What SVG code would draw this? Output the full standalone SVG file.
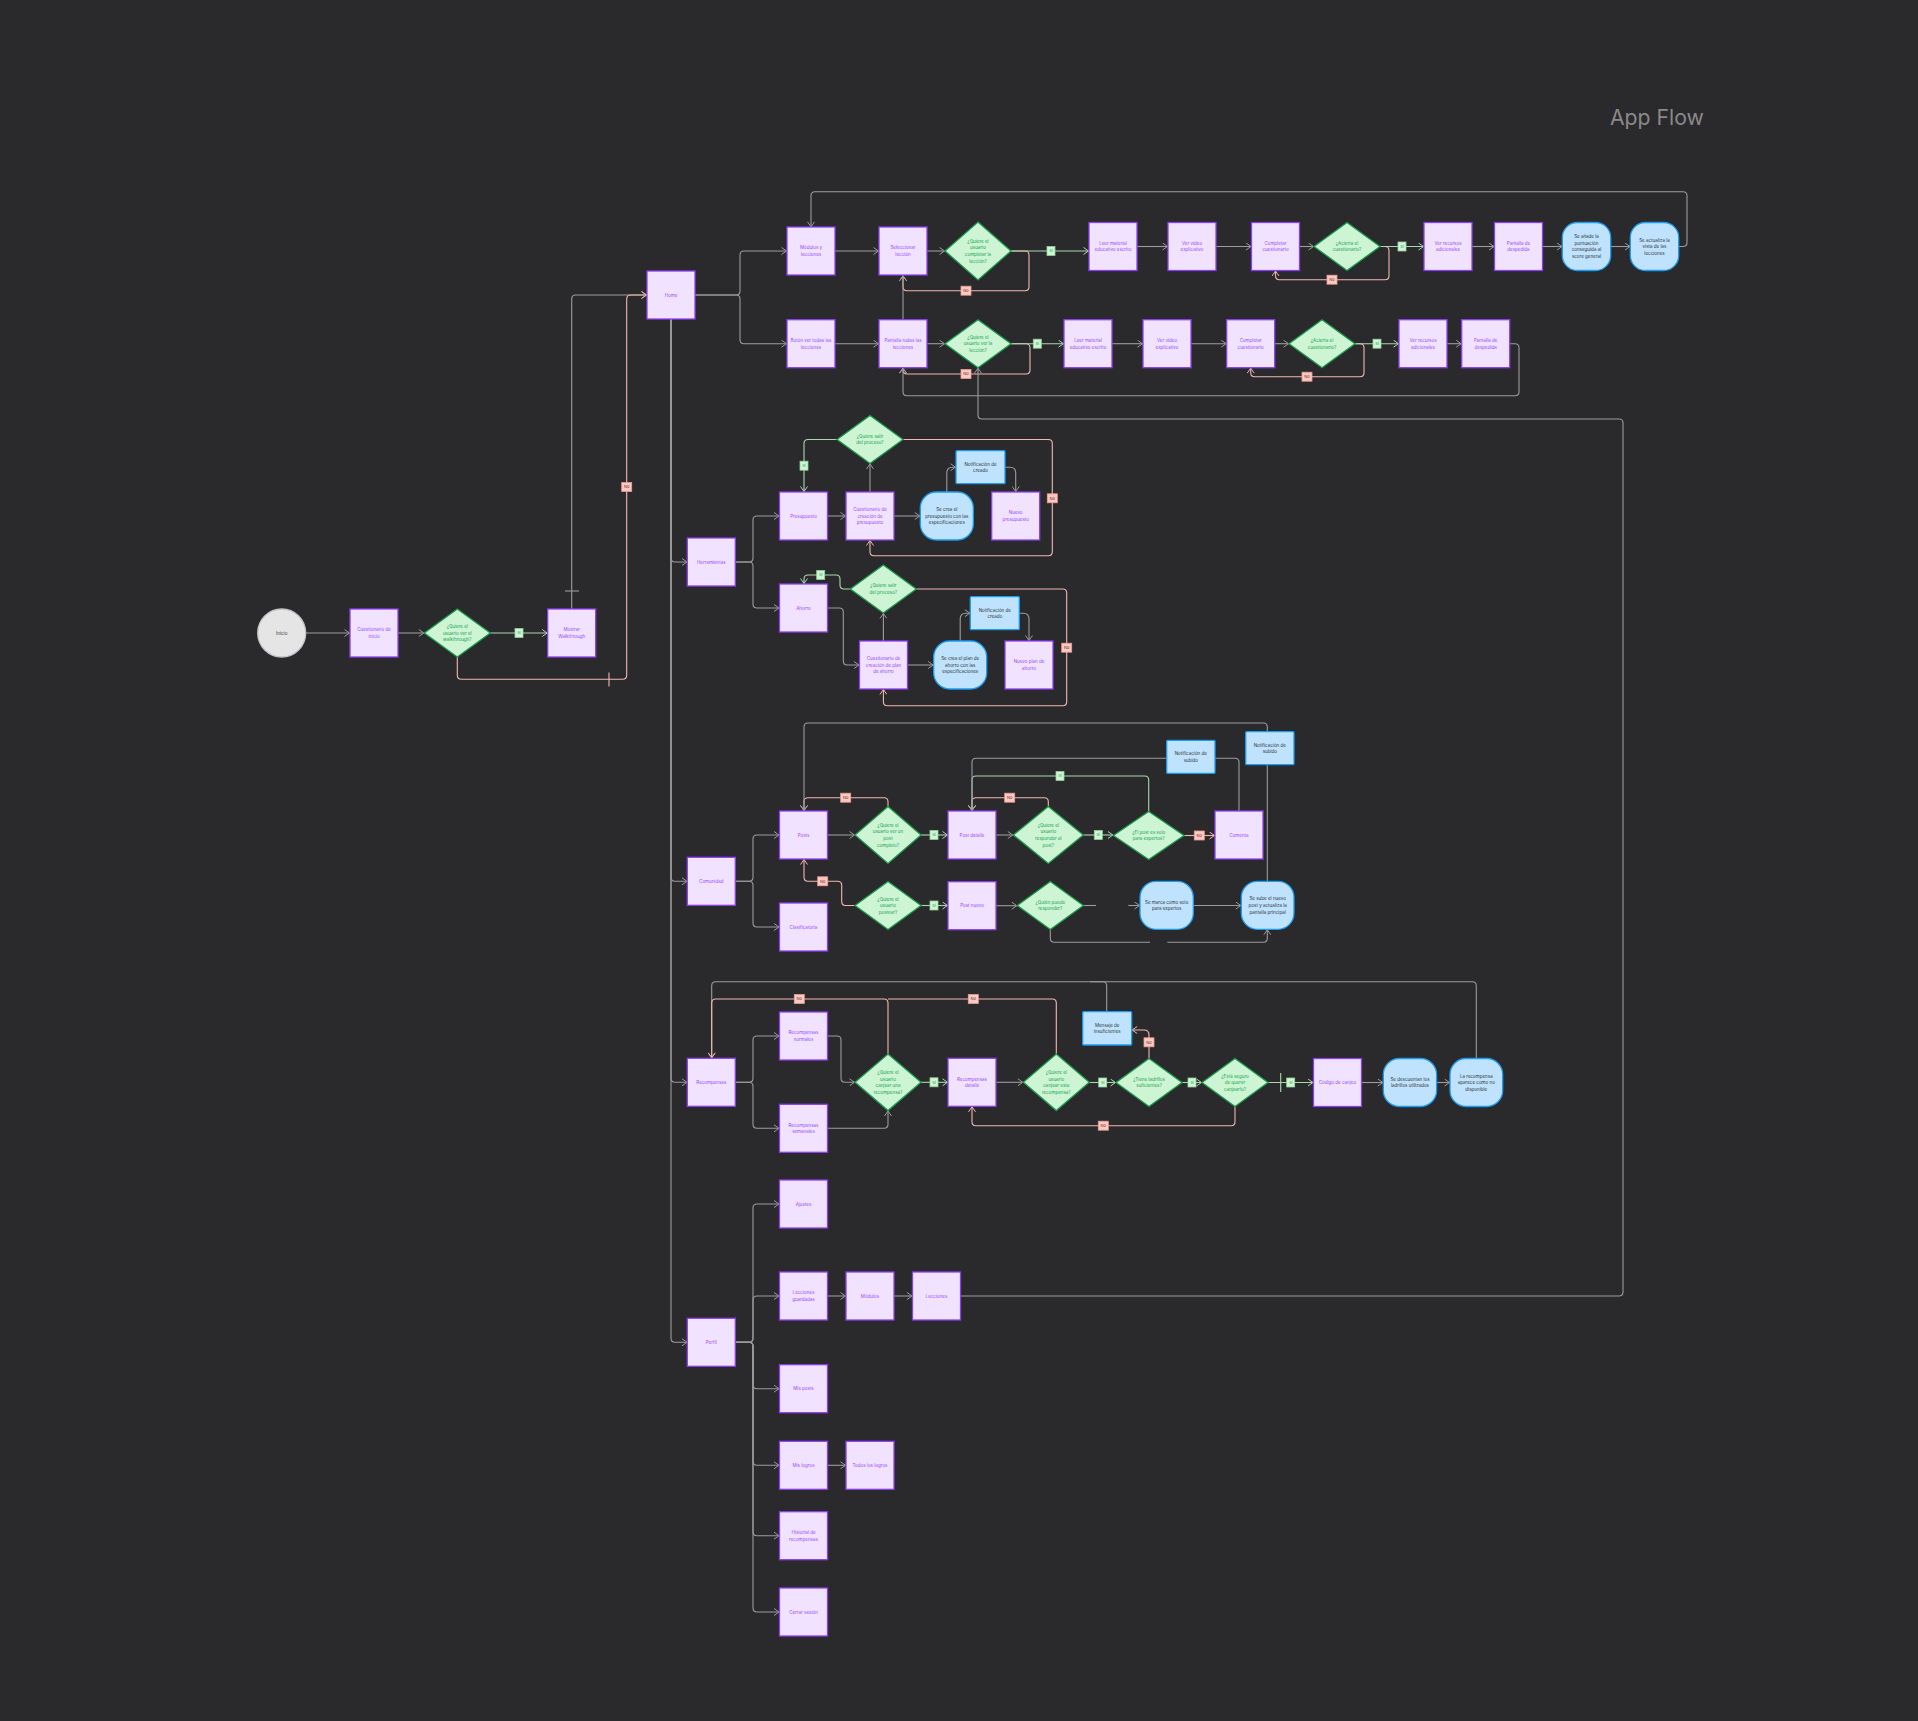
<svg xmlns="http://www.w3.org/2000/svg" width="1918" height="1721" viewBox="0 0 1918 1721">
<style>
.b{fill:#f1e3ff;stroke:#8c3ff0;stroke-width:1.3}
.d{fill:#cdf5d3;stroke:#1a9a4c;stroke-width:1.3}
.u{fill:#bfe3ff;stroke:#1a9cf5;stroke-width:1.3}
.t{font-family:Inter,'Liberation Sans',sans-serif;font-size:4.5px;text-anchor:middle}
.tb{fill:#9747ff}
.td{fill:#17a354}
.tu{fill:#333333}
.c{fill:none;stroke:#9c9c9c;stroke-width:1.1}
.cp{fill:none;stroke:#f2b9b0;stroke-width:1.1}
.cg{fill:none;stroke:#a8d9ae;stroke-width:1.1}
.ls rect{fill:#d0f6d5;stroke:#90d29a;stroke-width:0.8}
.ls text{fill:#1f9d4f}
.ln rect{fill:#ffc9c2;stroke:#ee9c92;stroke-width:0.8}
.ln text{fill:#4a3030}
.lt{font-family:Inter,'Liberation Sans',sans-serif;font-size:4px;text-anchor:middle}
</style>
<defs>
<marker id="ag" viewBox="0 0 6 8" refX="5.5" refY="4" markerWidth="6" markerHeight="8" markerUnits="userSpaceOnUse" orient="auto"><path d="M0.5,0.5 L5.5,4 L0.5,7.5" fill="none" stroke="#9c9c9c" stroke-width="1"/></marker>
<marker id="ap" viewBox="0 0 6 8" refX="5.5" refY="4" markerWidth="6" markerHeight="8" markerUnits="userSpaceOnUse" orient="auto"><path d="M0.5,0.5 L5.5,4 L0.5,7.5" fill="none" stroke="#f2b9b0" stroke-width="1"/></marker>
<marker id="agr" viewBox="0 0 6 8" refX="5.5" refY="4" markerWidth="6" markerHeight="8" markerUnits="userSpaceOnUse" orient="auto"><path d="M0.5,0.5 L5.5,4 L0.5,7.5" fill="none" stroke="#a8d9ae" stroke-width="1"/></marker>
</defs>
<rect width="1918" height="1721" fill="#2a292c"/>
<text x="1610" y="125" font-family="Inter,'Liberation Sans',sans-serif" font-size="21.2" fill="#8a8a8a">App Flow</text>

<g id="connectors">
<path class="c" marker-end="url(#ag)" d="M695,295 H736 Q740,295 740,291 V255 Q740,251 744,251 H786.5"/>
<path class="c" marker-end="url(#ag)" d="M695,295 H736 Q740,295 740,299 V339.7 Q740,343.7 744,343.7 H786.5"/>
<path class="c" marker-end="url(#ag)" d="M835,251 H878.5"/>
<path class="c" marker-end="url(#ag)" d="M927,251 H944.5"/>
<path class="cp" marker-end="url(#ap)" d="M1011,251 H1025 Q1029,251 1029,255 V286.7 Q1029,290.7 1025,290.7 H907 Q903,290.7 903,286.7 V275.8"/>
<path class="cg" marker-end="url(#agr)" d="M1011,251 H1088.5"/>
<path class="c" marker-end="url(#ag)" d="M1137,246.5 H1167.5"/>
<path class="c" marker-end="url(#ag)" d="M1216,246.5 H1251"/>
<path class="c" marker-end="url(#ag)" d="M1299.5,246.5 H1313.5"/>
<path class="cp" marker-end="url(#ap)" d="M1380,246.5 H1385 Q1389,246.5 1389,250.5 V275.7 Q1389,279.7 1385,279.7 H1279.5 Q1275.5,279.7 1275.5,275.7 V271"/>
<path class="cg" marker-end="url(#agr)" d="M1380,246.5 H1423.5"/>
<path class="c" marker-end="url(#ag)" d="M1472,246.5 H1494"/>
<path class="c" marker-end="url(#ag)" d="M1542.5,246.5 H1562"/>
<path class="c" marker-end="url(#ag)" d="M1610.7,246.5 H1630"/>
<path class="c" marker-end="url(#ag)" d="M1678.7,246.5 H1683 Q1687,246.5 1687,242.5 V195.7 Q1687,191.7 1683,191.7 H815 Q811,191.7 811,195.7 V226.8"/>
<path class="c" marker-end="url(#ag)" d="M835,343.7 H878.5"/>
<path class="c" marker-end="url(#ag)" d="M927,343.7 H944.5"/>
<path class="cp" marker-end="url(#ap)" d="M1011,343.7 H1026 Q1030,343.7 1030,347.7 V370 Q1030,374 1026,374 H907 Q903,374 903,370 V368.2"/>
<path class="cg" marker-end="url(#agr)" d="M1011,343.7 H1063.5"/>
<path class="c" marker-end="url(#ag)" d="M1112,343.7 H1142.5"/>
<path class="c" marker-end="url(#ag)" d="M1191,343.7 H1226.2"/>
<path class="c" marker-end="url(#ag)" d="M1274.7,343.7 H1288.5"/>
<path class="cp" marker-end="url(#ap)" d="M1355,343.7 H1360 Q1364,343.7 1364,347.7 V372.7 Q1364,376.7 1360,376.7 H1254.7 Q1250.7,376.7 1250.7,372.7 V368.2"/>
<path class="cg" marker-end="url(#agr)" d="M1355,343.7 H1398.5"/>
<path class="c" marker-end="url(#ag)" d="M1447,343.7 H1461.2"/>
<path class="c" marker-end="url(#ag)" d="M1509.7,343.7 H1515 Q1519,343.7 1519,347.7 V391.7 Q1519,395.7 1515,395.7 H907 Q903,395.7 903,391.7 V368.2"/>
<path class="c" marker-end="url(#ag)" d="M903,319.7 V275.8"/>
<path class="c" marker-end="url(#ag)" d="M960.5,1296 H1619 Q1623,1296 1623,1292 V423 Q1623,419 1619,419 H982 Q978,419 978,415 V368.2"/>
<path class="c" marker-end="url(#ag)" d="M305.7,633 H349.5"/>
<path class="c" marker-end="url(#ag)" d="M398,633 H423.8"/>
<path class="cg" marker-end="url(#agr)" d="M490.3,633 H547.2"/>
<path class="c" marker-end="url(#ag)" d="M571.7,609 V299 Q571.7,295 575.7,295 H646.5"/>
<path class="c" d="M565,591 H579"/>
<path class="cp" marker-end="url(#ap)" d="M457.3,657 V675.3 Q457.3,679.3 461.3,679.3 H622.7 Q626.7,679.3 626.7,675.3 V299 Q626.7,295 630.7,295 H646.5"/>
<path class="cp" d="M609,672.5 V686.5"/>
<path class="c" marker-end="url(#ag)" d="M671,319 V558 Q671,562 675,562 H687"/>
<path class="c" marker-end="url(#ag)" d="M671,319 V877.3 Q671,881.3 675,881.3 H687"/>
<path class="c" marker-end="url(#ag)" d="M671,319 V1078.3 Q671,1082.3 675,1082.3 H687"/>
<path class="c" marker-end="url(#ag)" d="M671,319 V1338.3 Q671,1342.3 675,1342.3 H687"/>
<path class="c" marker-end="url(#ag)" d="M735.3,562 H749 Q753,562 753,558 V520 Q753,516 757,516 H779"/>
<path class="c" marker-end="url(#ag)" d="M735.3,562 H749 Q753,562 753,566 V604 Q753,608 757,608 H779"/>
<path class="c" marker-end="url(#ag)" d="M827.5,516 H845.5"/>
<path class="c" marker-end="url(#ag)" d="M870,492 V464"/>
<path class="cg" marker-end="url(#agr)" d="M837,439.5 H808 Q804,439.5 804,443.5 V491.5"/>
<path class="cp" marker-end="url(#ap)" d="M903,439.5 H1048.3 Q1052.3,439.5 1052.3,443.5 V551.7 Q1052.3,555.7 1048.3,555.7 H874 Q870,555.7 870,551.7 V540.5"/>
<path class="c" marker-end="url(#ag)" d="M894,516 H919.8"/>
<path class="c" marker-end="url(#ag)" d="M946.8,492 V473 Q946.8,467.2 952.5,467.2 H955.5"/>
<path class="c" marker-end="url(#ag)" d="M1005,467.2 H1010 Q1015.7,467.2 1015.7,473 V491.5"/>
<path class="c" marker-end="url(#ag)" d="M827.5,608 H839.3 Q843.3,608 843.3,612 V661 Q843.3,665 847.3,665 H859"/>
<path class="c" marker-end="url(#ag)" d="M883.4,641 V613.5"/>
<path class="cg" marker-end="url(#agr)" d="M850.3,589 H844 Q840,589 840,585 V579 Q840,575 836,575 H808 Q804,575 804,579 V583.5"/>
<path class="cp" marker-end="url(#ap)" d="M916.3,589 H1062.7 Q1066.7,589 1066.7,593 V701.7 Q1066.7,705.7 1062.7,705.7 H887.4 Q883.4,705.7 883.4,701.7 V689.5"/>
<path class="c" marker-end="url(#ag)" d="M907.5,665 H933.2"/>
<path class="c" marker-end="url(#ag)" d="M960.2,641 V619 Q960.2,613.2 966,613.2 H969.8"/>
<path class="c" marker-end="url(#ag)" d="M1019.3,613.2 H1023 Q1029,613.2 1029,619 V640.5"/>
<path class="c" marker-end="url(#ag)" d="M735.3,881.3 H749 Q753,881.3 753,877.3 V839 Q753,835 757,835 H779"/>
<path class="c" marker-end="url(#ag)" d="M735.3,881.3 H749 Q753,881.3 753,885.3 V923 Q753,927 757,927 H779"/>
<path class="c" marker-end="url(#ag)" d="M827.5,835 H854.5"/>
<path class="cp" marker-end="url(#ap)" d="M888,806.5 V801.7 Q888,797.7 884,797.7 H808 Q804,797.7 804,801.7 V810.5"/>
<path class="cg" marker-end="url(#agr)" d="M921,835 H947.5"/>
<path class="c" marker-end="url(#ag)" d="M996,835 H1012.8"/>
<path class="cp" marker-end="url(#ap)" d="M1048.3,806.5 V801.7 Q1048.3,797.7 1044.3,797.7 H976 Q972,797.7 972,801.7 V810.5"/>
<path class="cg" marker-end="url(#agr)" d="M1083.3,835 H1112.9"/>
<path class="cg" marker-end="url(#agr)" d="M1148.7,811.5 V780 Q1148.7,776 1144.7,776 H976 Q972,776 972,780 V810.5"/>
<path class="c" marker-end="url(#ag)" d="M1239,811 V762.3 Q1239,758.3 1235,758.3 H976 Q972,758.3 972,762.3 V810.5"/>
<path class="cp" marker-end="url(#ap)" d="M1184,835.5 H1214.5"/>
<path class="c" marker-end="url(#ag)" d="M1267.3,731.7 V727 Q1267.3,723 1263.3,723 H808 Q804,723 804,727 V810.5"/>
<path class="c" d="M1267.3,881.3 V764.7"/>
<path class="cp" marker-end="url(#ap)" d="M855,905.5 H845.7 Q841.7,905.5 841.7,901.5 V885.3 Q841.7,881.3 837.7,881.3 H808 Q804,881.3 804,877.3 V859.5"/>
<path class="cg" marker-end="url(#agr)" d="M921,905.5 H947.5"/>
<path class="c" marker-end="url(#ag)" d="M996,905.7 H1016.8"/>
<path class="c" d="M1083.3,905.5 H1096"/>
<path class="c" marker-end="url(#ag)" d="M1128.3,905.5 H1139.5"/>
<path class="c" marker-end="url(#ag)" d="M1193.3,905.5 H1240.8"/>
<path class="c" d="M1050.3,929.5 V938.3 Q1050.3,942.3 1054.3,942.3 H1150"/>
<path class="c" marker-end="url(#ag)" d="M1167.3,942.3 H1263.3 Q1267.3,942.3 1267.3,938.3 V929.8"/>
<path class="c" marker-end="url(#ag)" d="M735.3,1082.3 H749 Q753,1082.3 753,1078.3 V1040 Q753,1036 757,1036 H779"/>
<path class="c" marker-end="url(#ag)" d="M735.3,1082.3 H749 Q753,1082.3 753,1086.3 V1124.3 Q753,1128.3 757,1128.3 H779"/>
<path class="c" marker-end="url(#ag)" d="M827.5,1036 H837 Q841,1036 841,1040 V1078.3 Q841,1082.3 845,1082.3 H854.5"/>
<path class="c" marker-end="url(#ag)" d="M827.5,1128.3 H884 Q888,1128.3 888,1124.3 V1111"/>
<path class="c" marker-end="url(#ag)" d="M1476.3,1058.5 V985.7 Q1476.3,981.7 1472.3,981.7 H715.7 Q711.7,981.7 711.7,985.7 V1057.8"/>
<path class="c" d="M1106.7,1011.7 V985.7 Q1106.7,981.7 1102.7,981.7 H1090"/>
<path class="cp" marker-end="url(#ap)" d="M888,1054 V1003 Q888,999 884,999 H715.7 Q711.7,999 711.7,1003 V1057.8"/>
<path class="cp" d="M1056.3,1054 V1003 Q1056.3,999 1052.3,999 H888"/>
<path class="cg" marker-end="url(#agr)" d="M921,1082.3 H947.5"/>
<path class="c" marker-end="url(#ag)" d="M996,1082.3 H1022.8"/>
<path class="cg" marker-end="url(#agr)" d="M1089.3,1082.5 H1115.5"/>
<path class="cp" marker-end="url(#ap)" d="M1149,1058.5 V1035 Q1149,1030 1144,1030 H1132.2"/>
<path class="cg" marker-end="url(#agr)" d="M1182,1082.5 H1201.5"/>
<path class="cp" marker-end="url(#ap)" d="M1235,1106.5 V1121.7 Q1235,1125.7 1231,1125.7 H976 Q972,1125.7 972,1121.7 V1106.8"/>
<path class="cg" marker-end="url(#agr)" d="M1268,1082.5 H1313"/>
<path class="cg" d="M1280.7,1073 V1092"/>
<path class="c" marker-end="url(#ag)" d="M1361.5,1082.5 H1382.8"/>
<path class="c" marker-end="url(#ag)" d="M1436.6,1082.5 H1449.5"/>
<path class="c" marker-end="url(#ag)" d="M735.3,1342.3 H749 Q753,1342.3 753,1338.3 V1208 Q753,1204 757,1204 H779"/>
<path class="c" marker-end="url(#ag)" d="M735.3,1342.3 H749 Q753,1342.3 753,1338.3 V1300 Q753,1296 757,1296 H779"/>
<path class="c" marker-end="url(#ag)" d="M735.3,1342.3 H749 Q753,1342.3 753,1346.3 V1384.7 Q753,1388.7 757,1388.7 H779"/>
<path class="c" marker-end="url(#ag)" d="M735.3,1342.3 H749 Q753,1342.3 753,1346.3 V1461.3 Q753,1465.3 757,1465.3 H779"/>
<path class="c" marker-end="url(#ag)" d="M735.3,1342.3 H749 Q753,1342.3 753,1346.3 V1531.7 Q753,1535.7 757,1535.7 H779"/>
<path class="c" marker-end="url(#ag)" d="M735.3,1342.3 H749 Q753,1342.3 753,1346.3 V1608 Q753,1612 757,1612 H779"/>
<path class="c" marker-end="url(#ag)" d="M827.5,1296 H845.5"/>
<path class="c" marker-end="url(#ag)" d="M894,1296 H912"/>
<path class="c" marker-end="url(#ag)" d="M827.5,1465.3 H845.5"/>

<g class="ls"><rect x="1047" y="246.5" width="8" height="9"/><text class="lt" x="1051" y="252.4">Sí</text></g>
<g class="ls"><rect x="1398" y="242" width="8" height="9"/><text class="lt" x="1402" y="247.9">Sí</text></g>
<g class="ls"><rect x="1033.3" y="339.2" width="8" height="9"/><text class="lt" x="1037.3" y="345.1">Sí</text></g>
<g class="ls"><rect x="1373" y="339.2" width="8" height="9"/><text class="lt" x="1377" y="345.1">Sí</text></g>
<g class="ls"><rect x="515" y="628.5" width="8" height="9"/><text class="lt" x="519" y="634.4">Sí</text></g>
<g class="ls"><rect x="800" y="461.2" width="8" height="9"/><text class="lt" x="804" y="467.1">Sí</text></g>
<g class="ls"><rect x="816.7" y="570.5" width="8" height="9"/><text class="lt" x="820.7" y="576.4">Sí</text></g>
<g class="ls"><rect x="930" y="830.5" width="8" height="9"/><text class="lt" x="934" y="836.4">Sí</text></g>
<g class="ls"><rect x="1094.3" y="830.5" width="8" height="9"/><text class="lt" x="1098.3" y="836.4">Sí</text></g>
<g class="ls"><rect x="1056" y="771.5" width="8" height="9"/><text class="lt" x="1060" y="777.4">Sí</text></g>
<g class="ls"><rect x="930" y="901" width="8" height="9"/><text class="lt" x="934" y="906.9">Sí</text></g>
<g class="ls"><rect x="930" y="1077.8" width="8" height="9"/><text class="lt" x="934" y="1083.7">Sí</text></g>
<g class="ls"><rect x="1098.7" y="1078" width="8" height="9"/><text class="lt" x="1102.7" y="1083.9">Sí</text></g>
<g class="ls"><rect x="1188" y="1078" width="8" height="9"/><text class="lt" x="1192" y="1083.9">Sí</text></g>
<g class="ls"><rect x="1286.7" y="1078" width="8" height="9"/><text class="lt" x="1290.7" y="1083.9">Sí</text></g>
<g class="ln"><rect x="961" y="286.2" width="10" height="9"/><text class="lt" x="966" y="292.1">No</text></g>
<g class="ln"><rect x="1327" y="275.2" width="10" height="9"/><text class="lt" x="1332" y="281.1">No</text></g>
<g class="ln"><rect x="961" y="369.5" width="10" height="9"/><text class="lt" x="966" y="375.4">No</text></g>
<g class="ln"><rect x="1302" y="372.2" width="10" height="9"/><text class="lt" x="1307" y="378.1">No</text></g>
<g class="ln"><rect x="621.7" y="482.5" width="10" height="9"/><text class="lt" x="626.7" y="488.4">No</text></g>
<g class="ln"><rect x="1047.3" y="493.8" width="10" height="9"/><text class="lt" x="1052.3" y="499.7">No</text></g>
<g class="ln"><rect x="1061.7" y="643.2" width="10" height="9"/><text class="lt" x="1066.7" y="649.1">No</text></g>
<g class="ln"><rect x="840.7" y="793.2" width="10" height="9"/><text class="lt" x="845.7" y="799.1">No</text></g>
<g class="ln"><rect x="1004.7" y="793.2" width="10" height="9"/><text class="lt" x="1009.7" y="799.1">No</text></g>
<g class="ln"><rect x="1194.3" y="831" width="10" height="9"/><text class="lt" x="1199.3" y="836.9">No</text></g>
<g class="ln"><rect x="817.7" y="876.8" width="10" height="9"/><text class="lt" x="822.7" y="882.7">No</text></g>
<g class="ln"><rect x="794.3" y="994.5" width="10" height="9"/><text class="lt" x="799.3" y="1000.4">No</text></g>
<g class="ln"><rect x="968.3" y="994.5" width="10" height="9"/><text class="lt" x="973.3" y="1000.4">No</text></g>
<g class="ln"><rect x="1144" y="1037.8" width="10" height="9"/><text class="lt" x="1149" y="1043.7">No</text></g>
<g class="ln"><rect x="1098.3" y="1121.2" width="10" height="9"/><text class="lt" x="1103.3" y="1127.1">No</text></g>
</g>

<g id="n-modulos-lecciones"><rect class="b" x="787" y="227" width="48" height="48"/><text class="t tb"><tspan x="811" y="249.3">Módulos y</tspan><tspan x="811" y="255.9">lecciones</tspan></text></g>
<g id="n-seleccionar"><rect class="b" x="879" y="227" width="48" height="48"/><text class="t tb"><tspan x="903" y="249.3">Seleccionar</tspan><tspan x="903" y="255.9">lección</tspan></text></g>
<g id="d-completar"><polygon class="d" points="978,222 1011,251 978,280 945,251"/><text class="t td"><tspan x="978" y="242.7">¿Quiere el</tspan><tspan x="978" y="249.3">usuario</tspan><tspan x="978" y="255.9">completar la</tspan><tspan x="978" y="262.5">lección?</tspan></text></g>
<g id="n-leer1"><rect class="b" x="1089" y="222.5" width="48" height="48"/><text class="t tb"><tspan x="1113" y="244.8">Leer material</tspan><tspan x="1113" y="251.4">educativo escrito</tspan></text></g>
<g id="n-video1"><rect class="b" x="1168" y="222.5" width="48" height="48"/><text class="t tb"><tspan x="1192" y="244.8">Ver video</tspan><tspan x="1192" y="251.4">explicativo</tspan></text></g>
<g id="n-comp1"><rect class="b" x="1251.5" y="222.5" width="48" height="48"/><text class="t tb"><tspan x="1275.5" y="244.8">Completar</tspan><tspan x="1275.5" y="251.4">cuestionario</tspan></text></g>
<g id="d-acierta1"><polygon class="d" points="1347,222.5 1380,246.5 1347,270.5 1314,246.5"/><text class="t td"><tspan x="1347" y="244.8">¿Acierta el</tspan><tspan x="1347" y="251.4">cuestionario?</tspan></text></g>
<g id="n-rec1"><rect class="b" x="1424" y="222.5" width="48" height="48"/><text class="t tb"><tspan x="1448" y="244.8">Ver recursos</tspan><tspan x="1448" y="251.4">adicionales</tspan></text></g>
<g id="n-desp1"><rect class="b" x="1494.5" y="222.5" width="48" height="48"/><text class="t tb"><tspan x="1518.5" y="244.8">Pantalla de</tspan><tspan x="1518.5" y="251.4">despedida</tspan></text></g>
<g id="u-puntuacion"><rect class="u" x="1562.3" y="222.5" width="48.4" height="48" rx="15"/><text class="t tu"><tspan x="1586.5" y="238.2">Se añade la</tspan><tspan x="1586.5" y="244.8">puntuación</tspan><tspan x="1586.5" y="251.4">conseguida al</tspan><tspan x="1586.5" y="258">score general</tspan></text></g>
<g id="u-actualiza"><rect class="u" x="1630.3" y="222.5" width="48.4" height="48" rx="15"/><text class="t tu"><tspan x="1654.5" y="241.5">Se actualiza la</tspan><tspan x="1654.5" y="248.1">vista de las</tspan><tspan x="1654.5" y="254.7">lecciones</tspan></text></g>

<g id="n-boton"><rect class="b" x="787" y="319.7" width="48" height="48"/><text class="t tb"><tspan x="811" y="342">Botón ver todas las</tspan><tspan x="811" y="348.6">lecciones</tspan></text></g>
<g id="n-pantalla-todas"><rect class="b" x="879" y="319.7" width="48" height="48"/><text class="t tb"><tspan x="903" y="342">Pantalla todas las</tspan><tspan x="903" y="348.6">lecciones</tspan></text></g>
<g id="d-ver-leccion"><polygon class="d" points="978,319.7 1011,343.7 978,367.7 945,343.7"/><text class="t td"><tspan x="978" y="338.7">¿Quiere el</tspan><tspan x="978" y="345.3">usuario ver la</tspan><tspan x="978" y="351.9">lección?</tspan></text></g>
<g id="n-leer2"><rect class="b" x="1064" y="319.7" width="48" height="48"/><text class="t tb"><tspan x="1088" y="342">Leer material</tspan><tspan x="1088" y="348.6">educativo escrito</tspan></text></g>
<g id="n-video2"><rect class="b" x="1143" y="319.7" width="48" height="48"/><text class="t tb"><tspan x="1167" y="342">Ver video</tspan><tspan x="1167" y="348.6">explicativo</tspan></text></g>
<g id="n-comp2"><rect class="b" x="1226.7" y="319.7" width="48" height="48"/><text class="t tb"><tspan x="1250.7" y="342">Completar</tspan><tspan x="1250.7" y="348.6">cuestionario</tspan></text></g>
<g id="d-acierta2"><polygon class="d" points="1322,319.7 1355,343.7 1322,367.7 1289,343.7"/><text class="t td"><tspan x="1322" y="342">¿Acierta el</tspan><tspan x="1322" y="348.6">cuestionario?</tspan></text></g>
<g id="n-rec2"><rect class="b" x="1399" y="319.7" width="48" height="48"/><text class="t tb"><tspan x="1423" y="342">Ver recursos</tspan><tspan x="1423" y="348.6">adicionales</tspan></text></g>
<g id="n-desp2"><rect class="b" x="1461.7" y="319.7" width="48" height="48"/><text class="t tb"><tspan x="1485.7" y="342">Pantalla de</tspan><tspan x="1485.7" y="348.6">despedida</tspan></text></g>

<g id="n-inicio"><circle cx="281.7" cy="633" r="24" fill="#e5e5e5" stroke="#c4c4c4" stroke-width="1.3"/><text class="t tu" x="281.7" y="634.6">Inicio</text></g>
<g id="n-cuest-inicio"><rect class="b" x="350" y="609" width="48" height="48"/><text class="t tb"><tspan x="374" y="631.3">Cuestionario de</tspan><tspan x="374" y="637.9">inicio</tspan></text></g>
<g id="d-walk"><polygon class="d" points="457.3,609 490.3,633 457.3,657 424.3,633"/><text class="t td"><tspan x="457.3" y="628">¿Quiere el</tspan><tspan x="457.3" y="634.6">usuario ver el</tspan><tspan x="457.3" y="641.2">walkthrough?</tspan></text></g>
<g id="n-mostrar"><rect class="b" x="547.7" y="609" width="48" height="48"/><text class="t tb"><tspan x="571.7" y="631.3">Mostrar</tspan><tspan x="571.7" y="637.9">Walkthrough</tspan></text></g>
<g id="n-home"><rect class="b" x="647" y="271" width="48" height="48"/><text class="t tb" x="671" y="296.6">Home</text></g>

<g id="n-herramientas"><rect class="b" x="687.3" y="538" width="48" height="48"/><text class="t tb" x="711.3" y="563.6">Herramientas</text></g>
<g id="n-presupuesto"><rect class="b" x="779.5" y="492" width="48" height="48"/><text class="t tb" x="803.5" y="517.6">Presupuesto</text></g>
<g id="n-cuest-pres"><rect class="b" x="846" y="492" width="48" height="48"/><text class="t tb"><tspan x="870" y="511">Cuestionario de</tspan><tspan x="870" y="517.6">creación de</tspan><tspan x="870" y="524.2">presupuesto</tspan></text></g>
<g id="d-salir1"><polygon class="d" points="870,415.5 903,439.5 870,463.5 837,439.5"/><text class="t td"><tspan x="870" y="437.8">¿Quiere salir</tspan><tspan x="870" y="444.4">del proceso?</tspan></text></g>
<g id="u-crea-pres"><rect class="u" x="920.3" y="492" width="53" height="48" rx="16"/><text class="t tu"><tspan x="946.8" y="511">Se crea el</tspan><tspan x="946.8" y="517.6">presupuesto con las</tspan><tspan x="946.8" y="524.2">especificaciones</tspan></text></g>
<g id="u-notif-creado1"><rect class="u" x="956" y="450.7" width="49" height="33" rx="1"/><text class="t tu"><tspan x="980.5" y="465.5">Notificación de</tspan><tspan x="980.5" y="472.1">creado</tspan></text></g>
<g id="n-nuevo-pres"><rect class="b" x="991.7" y="492" width="48" height="48"/><text class="t tb"><tspan x="1015.7" y="514.3">Nuevo</tspan><tspan x="1015.7" y="520.9">presupuesto</tspan></text></g>
<g id="n-ahorro"><rect class="b" x="779.5" y="584" width="48" height="48"/><text class="t tb" x="803.5" y="609.6">Ahorro</text></g>
<g id="d-salir2"><polygon class="d" points="883.3,565 916.3,589 883.3,613 850.3,589"/><text class="t td"><tspan x="883.3" y="587.3">¿Quiere salir</tspan><tspan x="883.3" y="593.9">del proceso?</tspan></text></g>
<g id="n-cuest-ahorro"><rect class="b" x="859.5" y="641" width="48" height="48"/><text class="t tb"><tspan x="883.5" y="660">Cuestionario de</tspan><tspan x="883.5" y="666.6">creación de plan</tspan><tspan x="883.5" y="673.2">de ahorro</tspan></text></g>
<g id="u-crea-ahorro"><rect class="u" x="933.7" y="641" width="53" height="48" rx="16"/><text class="t tu"><tspan x="960.2" y="660">Se crea el plan de</tspan><tspan x="960.2" y="666.6">ahorro con las</tspan><tspan x="960.2" y="673.2">especificaciones</tspan></text></g>
<g id="u-notif-creado2"><rect class="u" x="970.3" y="596.7" width="49" height="33" rx="1"/><text class="t tu"><tspan x="994.8" y="611.5">Notificación de</tspan><tspan x="994.8" y="618.1">creado</tspan></text></g>
<g id="n-nuevo-plan"><rect class="b" x="1005" y="641" width="48" height="48"/><text class="t tb"><tspan x="1029" y="663.3">Nuevo plan de</tspan><tspan x="1029" y="669.9">ahorro</tspan></text></g>

<g id="n-comunidad"><rect class="b" x="687.3" y="857.3" width="48" height="48"/><text class="t tb" x="711.3" y="882.9">Comunidad</text></g>
<g id="n-posts"><rect class="b" x="779.5" y="811" width="48" height="48"/><text class="t tb" x="803.5" y="836.6">Posts</text></g>
<g id="n-clasificatoria"><rect class="b" x="779.5" y="903" width="48" height="48"/><text class="t tb" x="803.5" y="928.6">Clasificatoria</text></g>
<g id="d-ver-post"><polygon class="d" points="888,806.5 921,835 888,863.5 855,835"/><text class="t td"><tspan x="888" y="826.7">¿Quiere el</tspan><tspan x="888" y="833.3">usuario ver un</tspan><tspan x="888" y="839.9">post</tspan><tspan x="888" y="846.5">completo?</tspan></text></g>
<g id="n-post-detalle"><rect class="b" x="948" y="811" width="48" height="48"/><text class="t tb" x="972" y="836.6">Post detalle</text></g>
<g id="d-responder"><polygon class="d" points="1048.3,806.5 1083.3,835 1048.3,863.5 1013.3,835"/><text class="t td"><tspan x="1048.3" y="826.7">¿Quiere el</tspan><tspan x="1048.3" y="833.3">usuario</tspan><tspan x="1048.3" y="839.9">responder al</tspan><tspan x="1048.3" y="846.5">post?</tspan></text></g>
<g id="d-expertos"><polygon class="d" points="1148.7,811.5 1184,835.5 1148.7,859.5 1113.4,835.5"/><text class="t td"><tspan x="1148.7" y="833.8">¿El post es solo</tspan><tspan x="1148.7" y="840.4">para expertos?</tspan></text></g>
<g id="n-comenta"><rect class="b" x="1215" y="811" width="48" height="48"/><text class="t tb" x="1239" y="836.6">Comenta</text></g>
<g id="u-notif-subido1"><rect class="u" x="1166.7" y="740.3" width="48.3" height="33" rx="1"/><text class="t tu"><tspan x="1190.8" y="755.1">Notificación de</tspan><tspan x="1190.8" y="761.7">subido</tspan></text></g>
<g id="u-notif-subido2"><rect class="u" x="1245.7" y="731.7" width="48.3" height="33" rx="1"/><text class="t tu"><tspan x="1269.8" y="746.5">Notificación de</tspan><tspan x="1269.8" y="753.1">subido</tspan></text></g>
<g id="d-postear"><polygon class="d" points="888,881.5 921,905.5 888,929.5 855,905.5"/><text class="t td"><tspan x="888" y="900.5">¿Quiere el</tspan><tspan x="888" y="907.1">usuario</tspan><tspan x="888" y="913.7">postear?</tspan></text></g>
<g id="n-post-nuevo"><rect class="b" x="948" y="881.7" width="48" height="48"/><text class="t tb" x="972" y="907.3">Post nuevo</text></g>
<g id="d-quien"><polygon class="d" points="1050.3,881.5 1083.3,905.5 1050.3,929.5 1017.3,905.5"/><text class="t td"><tspan x="1050.3" y="903.8">¿Quién puede</tspan><tspan x="1050.3" y="910.4">responder?</tspan></text></g>
<g id="u-marca"><rect class="u" x="1140" y="881.3" width="53.3" height="48" rx="16"/><text class="t tu"><tspan x="1166.7" y="903.6">Se marca como solo</tspan><tspan x="1166.7" y="910.2">para expertos</tspan></text></g>
<g id="u-sube"><rect class="u" x="1241.3" y="881.3" width="52.7" height="48" rx="16"/><text class="t tu"><tspan x="1267.7" y="900.3">Se sube el nuevo</tspan><tspan x="1267.7" y="906.9">post y actualiza la</tspan><tspan x="1267.7" y="913.5">pantalla principal</tspan></text></g>

<g id="n-recompensas"><rect class="b" x="687.3" y="1058.3" width="48" height="48"/><text class="t tb" x="711.3" y="1083.9">Recompensas</text></g>
<g id="n-rec-normales"><rect class="b" x="779.5" y="1012" width="48" height="48"/><text class="t tb"><tspan x="803.5" y="1034.3">Recompensas</tspan><tspan x="803.5" y="1040.9">normales</tspan></text></g>
<g id="n-rec-semanales"><rect class="b" x="779.5" y="1104.3" width="48" height="48"/><text class="t tb"><tspan x="803.5" y="1126.6">Recompensas</tspan><tspan x="803.5" y="1133.2">semanales</tspan></text></g>
<g id="d-canjear1"><polygon class="d" points="888,1054 921,1082.3 888,1110.6 855,1082.3"/><text class="t td"><tspan x="888" y="1074">¿Quiere el</tspan><tspan x="888" y="1080.6">usuario</tspan><tspan x="888" y="1087.2">canjear una</tspan><tspan x="888" y="1093.8">recompensa?</tspan></text></g>
<g id="n-rec-detalle"><rect class="b" x="948" y="1058.3" width="48" height="48"/><text class="t tb"><tspan x="972" y="1080.6">Recompensas</tspan><tspan x="972" y="1087.2">detalle</tspan></text></g>
<g id="d-canjear2"><polygon class="d" points="1056.3,1054 1089.3,1082.3 1056.3,1110.6 1023.3,1082.3"/><text class="t td"><tspan x="1056.3" y="1074">¿Quiere el</tspan><tspan x="1056.3" y="1080.6">usuario</tspan><tspan x="1056.3" y="1087.2">canjear esta</tspan><tspan x="1056.3" y="1093.8">recompensa?</tspan></text></g>
<g id="d-ladrillos"><polygon class="d" points="1149,1058.5 1182,1082.5 1149,1106.5 1116,1082.5"/><text class="t td"><tspan x="1149" y="1080.8">¿Tiene ladrillos</tspan><tspan x="1149" y="1087.4">suficientes?</tspan></text></g>
<g id="u-mensaje"><rect class="u" x="1082.7" y="1011.7" width="49" height="33.3" rx="1"/><text class="t tu"><tspan x="1107.2" y="1026.6">Mensaje de</tspan><tspan x="1107.2" y="1033.2">insuficientes</tspan></text></g>
<g id="d-seguro"><polygon class="d" points="1235,1058.5 1268,1082.5 1235,1106.5 1202,1082.5"/><text class="t td"><tspan x="1235" y="1077.5">¿Está seguro</tspan><tspan x="1235" y="1084.1">de querer</tspan><tspan x="1235" y="1090.7">canjearlo?</tspan></text></g>
<g id="n-codigo"><rect class="b" x="1313.5" y="1058.5" width="48" height="48"/><text class="t tb" x="1337.5" y="1084.1">Código de canjeo</text></g>
<g id="u-descuentan"><rect class="u" x="1383.3" y="1058.5" width="53.3" height="48" rx="16"/><text class="t tu"><tspan x="1410" y="1080.8">Se descuentan los</tspan><tspan x="1410" y="1087.4">ladrillos utilizados</tspan></text></g>
<g id="u-no-disponible"><rect class="u" x="1450" y="1058.5" width="52.7" height="48" rx="16"/><text class="t tu"><tspan x="1476.3" y="1077.5">La recompensa</tspan><tspan x="1476.3" y="1084.1">aparece como no</tspan><tspan x="1476.3" y="1090.7">disponible</tspan></text></g>

<g id="n-perfil"><rect class="b" x="687.3" y="1318.3" width="48" height="48"/><text class="t tb" x="711.3" y="1343.9">Perfil</text></g>
<g id="n-ajustes"><rect class="b" x="779.5" y="1180" width="48" height="48"/><text class="t tb" x="803.5" y="1205.6">Ajustes</text></g>
<g id="n-lecc-guardadas"><rect class="b" x="779.5" y="1272" width="48" height="48"/><text class="t tb"><tspan x="803.5" y="1294.3">Lecciones</tspan><tspan x="803.5" y="1300.9">guardadas</tspan></text></g>
<g id="n-modulos"><rect class="b" x="846" y="1272" width="48" height="48"/><text class="t tb" x="870" y="1297.6">Módulos</text></g>
<g id="n-lecciones"><rect class="b" x="912.5" y="1272" width="48" height="48"/><text class="t tb" x="936.5" y="1297.6">Lecciones</text></g>
<g id="n-mis-posts"><rect class="b" x="779.5" y="1364.7" width="48" height="48"/><text class="t tb" x="803.5" y="1390.3">Mis posts</text></g>
<g id="n-mis-logros"><rect class="b" x="779.5" y="1441.3" width="48" height="48"/><text class="t tb" x="803.5" y="1466.9">Mis logros</text></g>
<g id="n-todos-logros"><rect class="b" x="846" y="1441.3" width="48" height="48"/><text class="t tb" x="870" y="1466.9">Todos los logros</text></g>
<g id="n-historial"><rect class="b" x="779.5" y="1511.7" width="48" height="48"/><text class="t tb"><tspan x="803.5" y="1534">Historial de</tspan><tspan x="803.5" y="1540.6">recompensas</tspan></text></g>
<g id="n-cerrar"><rect class="b" x="779.5" y="1588" width="48" height="48"/><text class="t tb" x="803.5" y="1613.6">Cerrar sesión</text></g>
</svg>
